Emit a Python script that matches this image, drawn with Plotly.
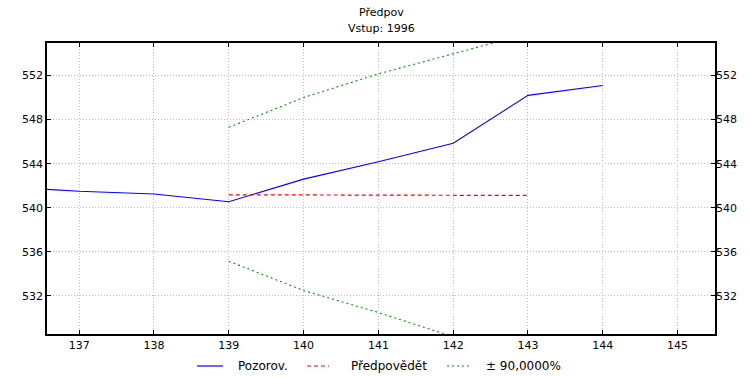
import plotly.graph_objects as go

# Data
obs_x = [136, 137, 138, 139, 140, 141, 142, 143, 144]
obs_y = [541.9, 541.5, 541.25, 540.55, 542.6, 544.18, 545.85, 550.2, 551.09]

pred_x = [139, 140, 141, 142, 143]
pred_y = [541.18, 541.17, 541.15, 541.12, 541.12]

upper_y = [547.3, 550.0, 552.15, 554.0, 555.8]
lower_y = [535.15, 532.5, 530.5, 528.3, 526.4]

x_ticks = [137, 138, 139, 140, 141, 142, 143, 144, 145]
y_ticks = [532, 536, 540, 544, 548, 552]

x_range = [136.57, 145.5]
y_range = [528.55, 554.95]

title_lines = ["Předpov", "Vstup: 1996"]
series_names = ["Pozorov.", "Předpovědět", "± 90,0000%"]
series_colors = ["#0000ff", "#ff0000", "#009900"]
series_dash = ["solid", "4px,3px", "2px,3px"]

FONT = "DejaVu Sans, Liberation Sans, Arial, sans-serif"
W, H = 750, 377
ML, MR, MT, MB = 47, 35, 43, 43
PW, PH = W - ML - MR, H - MT - MB


def px_x(p):
    return (p - ML) / PW


def px_y(p):
    return (H - MB - p) / PH


fig = go.Figure()
fig.add_trace(go.Scatter(x=obs_x, y=obs_y, mode="lines", name=series_names[0],
                         line=dict(color=series_colors[0], width=1.1, dash=series_dash[0])))
fig.add_trace(go.Scatter(x=pred_x, y=pred_y, mode="lines", name=series_names[1],
                         line=dict(color=series_colors[1], width=1.2, dash=series_dash[1])))
fig.add_trace(go.Scatter(x=pred_x, y=upper_y, mode="lines", name=series_names[2],
                         line=dict(color=series_colors[2], width=1.1, dash=series_dash[2])))
fig.add_trace(go.Scatter(x=pred_x, y=lower_y, mode="lines", name=series_names[2],
                         line=dict(color=series_colors[2], width=1.1, dash=series_dash[2])))
# invisible trace so the right-hand axis is drawn
fig.add_trace(go.Scatter(x=obs_x, y=obs_y, mode="lines", yaxis="y2", hoverinfo="skip",
                         line=dict(color="rgba(0,0,0,0)", width=0)))

annotations = []
# title, centred over the plot area
for t, py in zip(title_lines, [13, 29]):
    annotations.append(dict(text=t, xref="paper", yref="paper", x=0.5, y=px_y(py),
                            xanchor="center", yanchor="middle", showarrow=False,
                            font=dict(family=FONT, size=11, color="black")))

# legend drawn by hand at the reference positions
shapes = []
legend_y = 366
sample_px = [(197, 223), (307, 329), (447, 470)]
label_centers = [263, 389, 523]
for name, col, dsh, (a, b), c in zip(series_names, series_colors, series_dash,
                                     sample_px, label_centers):
    shapes.append(dict(type="line", xref="paper", yref="paper",
                       x0=px_x(a), x1=px_x(b), y0=px_y(legend_y), y1=px_y(legend_y),
                       line=dict(color=col, width=1.2, dash=dsh)))
    annotations.append(dict(text=name, xref="paper", yref="paper", x=px_x(c),
                            y=px_y(legend_y), xanchor="center", yanchor="middle",
                            showarrow=False,
                            font=dict(family=FONT, size=12, color="black")))

axis_common = dict(ticks="inside", ticklen=4, tickcolor="black", showline=True,
                   linecolor="black", linewidth=1.5, mirror="ticks", showgrid=True,
                   gridcolor="#bdbdbd", griddash="1px,2px", gridwidth=1, zeroline=False,
                   tickfont=dict(family=FONT, size=11), automargin=False)

fig.update_layout(
    width=W, height=H,
    margin=dict(l=ML, r=MR, t=MT, b=MB),
    paper_bgcolor="white", plot_bgcolor="white",
    font=dict(family=FONT, size=11, color="black"),
    annotations=annotations,
    shapes=shapes,
    showlegend=False,
    xaxis=dict(range=x_range, tickvals=x_ticks, **axis_common),
    yaxis=dict(range=y_range, tickvals=y_ticks, **axis_common),
    yaxis2=dict(range=y_range, tickvals=y_ticks, overlaying="y", side="right",
                ticks="", showgrid=False, zeroline=False, showline=False,
                tickfont=dict(family=FONT, size=11), automargin=False),
)

fig.write_html("out.html")
